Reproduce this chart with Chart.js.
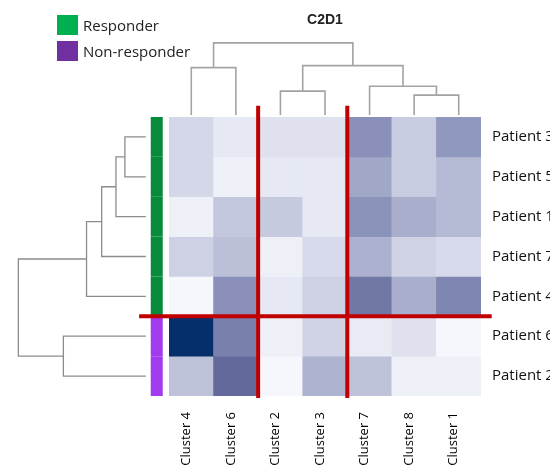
<!DOCTYPE html>
<html>
<head>
<meta charset="utf-8">
<script src="https://cdn.jsdelivr.net/npm/chart.js@4.4.1/dist/chart.umd.min.js"></script>
<style>
  html, body { margin: 0; padding: 0; background: #fff; }
  #wrap { position: relative; width: 550px; height: 469px; overflow: hidden; }
  #legend { position: absolute; left: 57px; top: 15px; font-family: "Open Sans", sans-serif; font-size: 15px; color: #222; }
  .item { display: flex; align-items: center; height: 20px; margin-bottom: 6px; }
  .swatch { width: 21px; height: 20px; margin-right: 5px; }
</style>
</head>
<body>
<div id="wrap">
  <canvas id="heatmap" width="550" height="469"></canvas>
  <div id="legend"></div>
</div>
<script>
// column / row order as they come out of the clustering
const clusters = ['Cluster 4', 'Cluster 6', 'Cluster 2', 'Cluster 3', 'Cluster 7', 'Cluster 8', 'Cluster 1'];
const patients = ['Patient 3', 'Patient 5', 'Patient 1', 'Patient 7', 'Patient 4', 'Patient 6', 'Patient 2'];
const groups = ['Responder', 'Non-responder'];
const patientGroup = [0, 0, 0, 0, 0, 1, 1];

// scaled abundance, one array per patient row, cluster order as above
const patient3 = [0.19, 0.09, 0.13, 0.13, 0.49, 0.25, 0.46];
const patient5 = [0.19, 0.05, 0.09, 0.09, 0.40, 0.25, 0.32];
const patient1 = [0.05, 0.27, 0.26, 0.09, 0.48, 0.37, 0.32];
const patient7 = [0.22, 0.30, 0.05, 0.17, 0.36, 0.21, 0.17];
const patient4 = [0.01, 0.49, 0.09, 0.22, 0.61, 0.37, 0.54];
const patient6 = [1.00, 0.57, 0.05, 0.21, 0.08, 0.13, 0.01];
const patient2 = [0.29, 0.68, 0.01, 0.35, 0.29, 0.05, 0.05];
const values = [patient3, patient5, patient1, patient7, patient4, patient6, patient2];

// dendrogram merges: [nodeA, nodeB, height]; leaves are 0..6, merges numbered from 7
const clusterMerges = [[0, 1, 1.19], [2, 3, 0.60], [5, 6, 0.50], [4, 9, 0.72], [8, 10, 1.24], [7, 11, 1.81]];
const patientMerges = [[0, 1, 0.47], [7, 2, 0.67], [8, 3, 0.99], [9, 4, 1.33], [5, 6, 1.85], [10, 11, 2.86]];

// cut lines between cluster blocks and patient groups
const clusterSplits = [2, 4];
const patientSplits = [5];

const legendColors = ['#00B050', '#7030A0'];
const sideColors = ['#078B3A', '#A23BEE'];
const cutColor = '#C00000';

// white -> slate -> navy
const stops = [
  [0, [247, 249, 254]], [0.25, [200, 204, 224]], [0.5, [135, 142, 183]],
  [0.7, [95, 102, 152]], [1, [5, 47, 106]]
];
function shade(v) {
  for (let i = 1; i < stops.length; i++) {
    const [t1, c1] = stops[i];
    const [t0, c0] = stops[i - 1];
    if (v <= t1) {
      const f = (v - t0) / (t1 - t0);
      const c = c0.map((a, k) => Math.round(a + (c1[k] - a) * f));
      return `rgb(${c[0]},${c[1]},${c[2]})`;
    }
  }
  return 'rgb(5,47,106)';
}

function dendroLinks(merges, leafCount) {
  const nodes = [];
  for (let i = 0; i < leafCount; i++) nodes.push({ pos: i + 0.5, h: 0 });
  return merges.map(([a, b, h]) => {
    const A = nodes[a], B = nodes[b];
    nodes.push({ pos: (A.pos + B.pos) / 2, h: h });
    return [[A.pos, A.h], [A.pos, h], [B.pos, h], [B.pos, B.h]];
  });
}

const lineBase = { type: 'line', pointRadius: 0, fill: false, tension: 0, clip: false };

const datasets = [];

// heatmap cells: one floating bar per cell
values.forEach((row, r) => {
  datasets.push({
    type: 'bar',
    label: patients[r],
    data: row.map((v, c) => ({ x: c + 0.5, y: [r, r + 1] })),
    backgroundColor: row.map(shade),
    borderWidth: 0,
    grouped: false,
    barPercentage: 1,
    categoryPercentage: 1,
    order: 5
  });
});

// column dendrogram above the heatmap
const colBase = -0.05;
dendroLinks(clusterMerges, clusters.length).forEach(link => {
  datasets.push(Object.assign({}, lineBase, {
    data: link.map(([p, h]) => ({ x: p, y: colBase - h })),
    borderColor: '#A3A3A3', borderWidth: 1.6, order: 3
  }));
});

// row dendrogram to the left
const rowBase = -0.52;
dendroLinks(patientMerges, patients.length).forEach(link => {
  datasets.push(Object.assign({}, lineBase, {
    data: link.map(([p, h]) => ({ x: rowBase - h, y: p })),
    borderColor: '#8C8C8C', borderWidth: 1.3, order: 3
  }));
});

// group colour strip
patientGroup.forEach((g, r) => {
  datasets.push(Object.assign({}, lineBase, {
    data: [{ x: -0.275, y: r }, { x: -0.275, y: r + 1 }],
    borderColor: sideColors[g], borderWidth: 12, borderCapStyle: 'butt', order: 2
  }));
});

// red cut lines
clusterSplits.forEach(s => {
  datasets.push(Object.assign({}, lineBase, {
    data: [{ x: s, y: -0.28 }, { x: s, y: patients.length + 0.05 }],
    borderColor: cutColor, borderWidth: 4, borderCapStyle: 'butt', order: 0
  }));
});
patientSplits.forEach(s => {
  datasets.push(Object.assign({}, lineBase, {
    data: [{ x: -0.67, y: s }, { x: clusters.length + 0.24, y: s }],
    borderColor: cutColor, borderWidth: 4, borderCapStyle: 'butt', order: 0
  }));
});

new Chart(document.getElementById('heatmap'), {
  type: 'bar',
  data: { datasets: datasets },
  options: {
    responsive: false,
    animation: false,
    events: [],
    layout: { padding: { left: 169, top: 0, right: 0, bottom: 0 } },
    plugins: {
      legend: { display: false },
      tooltip: { enabled: false },
      title: {
        display: true,
        text: 'C2D1',
        fullSize: false,
        color: '#222',
        font: { family: 'Liberation Sans', size: 14, weight: 'bold' },
        padding: { top: 12, bottom: 88.2 }
      }
    },
    scales: {
      x: {
        type: 'linear',
        min: 0,
        max: clusters.length,
        offset: false,
        position: 'bottom',
        grid: { display: false, drawTicks: false },
        border: { display: false },
        afterBuildTicks: s => { s.ticks = clusters.map((_, i) => ({ value: i + 0.5 })); },
        afterFit: s => { s.height = 73; },
        ticks: {
          autoSkip: false,
          minRotation: 90,
          maxRotation: 90,
          padding: 16,
          labelOffset: -5,
          color: '#000',
          font: { family: 'Open Sans', size: 13 },
          callback: (v, i) => clusters[i]
        }
      },
      y: {
        type: 'linear',
        min: 0,
        max: patients.length,
        reverse: true,
        stacked: false,
        position: 'right',
        grid: { display: false, drawTicks: false },
        border: { display: false },
        afterBuildTicks: s => { s.ticks = patients.map((_, i) => ({ value: i + 0.5 })); },
        afterFit: s => { s.width = 69; },
        ticks: {
          autoSkip: false,
          padding: 11,
          color: '#111',
          font: { family: 'Open Sans', size: 15 },
          callback: (v, i) => patients[i]
        }
      }
    }
  }
});

// group legend
const legend = document.getElementById('legend');
groups.forEach((name, i) => {
  const item = document.createElement('div');
  item.className = 'item';
  const sw = document.createElement('span');
  sw.className = 'swatch';
  sw.style.background = legendColors[i];
  const label = document.createElement('span');
  label.textContent = name;
  item.appendChild(sw);
  item.appendChild(label);
  legend.appendChild(item);
});
</script>
</body>
</html>
